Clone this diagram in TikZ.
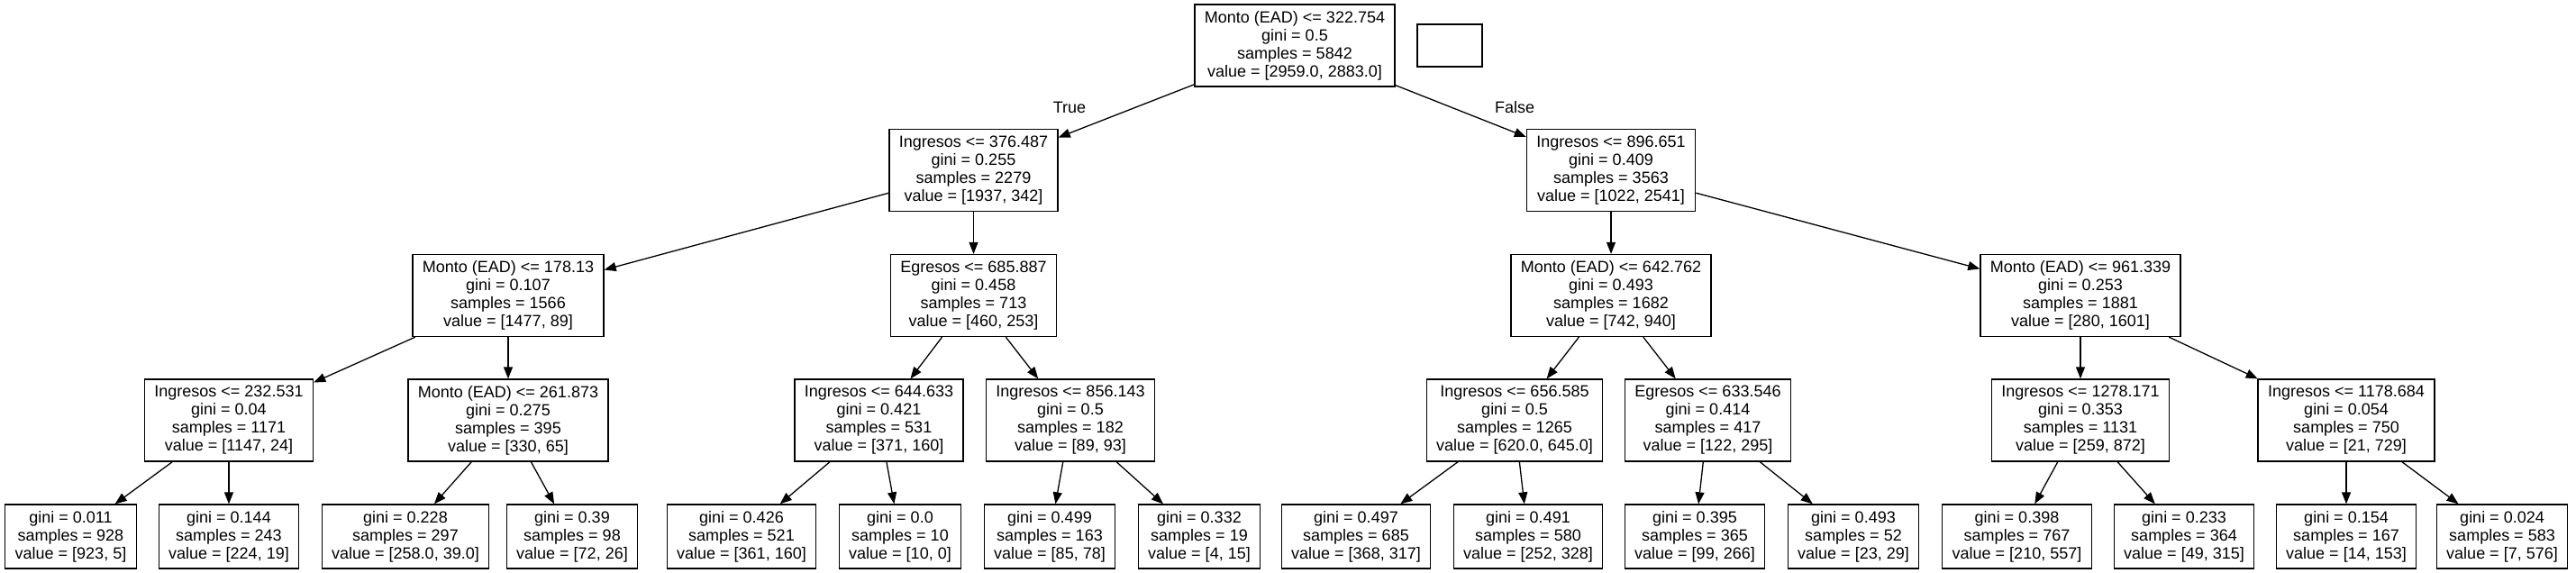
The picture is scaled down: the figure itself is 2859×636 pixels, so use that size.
\documentclass[tikz,border=0pt]{standalone}
\usepackage{fontspec}
\setmainfont{Liberation Sans}
\usetikzlibrary{arrows.meta}
\tikzset{
  box/.style={draw, line width=1.3pt, align=center, font=\fontsize{18}{20}\selectfont, inner xsep=11pt, inner ysep=0pt},
  splitnode/.style={box, minimum height=91pt},
  leafnode/.style={box, minimum height=71pt},
  arr/.style={-{Triangle[length=13pt,width=10pt]}, line width=1.3pt},
  lbl/.style={font=\fontsize{18}{20}\selectfont, inner sep=0pt}
}
\begin{document}
\begin{tikzpicture}[x=1pt,y=-1pt]
\useasboundingbox (0,0) rectangle (2859,636);
% level 0
\node[splitnode] (root) at (1437,50.5) {Monto (EAD) <= 322.754\\gini = 0.5\\samples = 5842\\value = [2959.0, 2883.0]};
\node[box, minimum width=72pt, minimum height=47pt, inner sep=0pt] (empty) at (1609,50.5) {};
% level 1
\node[splitnode] (n1) at (1080.5,189) {Ingresos <= 376.487\\gini = 0.255\\samples = 2279\\value = [1937, 342]};
\node[splitnode] (n2) at (1788,189) {Ingresos <= 896.651\\gini = 0.409\\samples = 3563\\value = [1022, 2541]};
% level 2
\node[splitnode] (a) at (564,328) {Monto (EAD) <= 178.13\\gini = 0.107\\samples = 1566\\value = [1477, 89]};
\node[splitnode] (b) at (1080.5,328) {Egresos <= 685.887\\gini = 0.458\\samples = 713\\value = [460, 253]};
\node[splitnode] (c) at (1788,328) {Monto (EAD) <= 642.762\\gini = 0.493\\samples = 1682\\value = [742, 940]};
\node[splitnode] (d) at (2309,328) {Monto (EAD) <= 961.339\\gini = 0.253\\samples = 1881\\value = [280, 1601]};
% level 3
\node[splitnode] (aa) at (254,466.5) {Ingresos <= 232.531\\gini = 0.04\\samples = 1171\\value = [1147, 24]};
\node[splitnode] (ab) at (564,466.5) {Monto (EAD) <= 261.873\\gini = 0.275\\samples = 395\\value = [330, 65]};
\node[splitnode] (ba) at (975.5,466.5) {Ingresos <= 644.633\\gini = 0.421\\samples = 531\\value = [371, 160]};
\node[splitnode] (bb) at (1188,466.5) {Ingresos <= 856.143\\gini = 0.5\\samples = 182\\value = [89, 93]};
\node[splitnode] (ca) at (1681,466.5) {Ingresos <= 656.585\\gini = 0.5\\samples = 1265\\value = [620.0, 645.0]};
\node[splitnode] (cb) at (1895.5,466.5) {Egresos <= 633.546\\gini = 0.414\\samples = 417\\value = [122, 295]};
\node[splitnode] (da) at (2309,466.5) {Ingresos <= 1278.171\\gini = 0.353\\samples = 1131\\value = [259, 872]};
\node[splitnode] (db) at (2604,466.5) {Ingresos <= 1178.684\\gini = 0.054\\samples = 750\\value = [21, 729]};
% leaves
\node[leafnode] (l1) at (78.5,595.5) {gini = 0.011\\samples = 928\\value = [923, 5]};
\node[leafnode] (l2) at (254,595.5) {gini = 0.144\\samples = 243\\value = [224, 19]};
\node[leafnode] (l3) at (450,595.5) {gini = 0.228\\samples = 297\\value = [258.0, 39.0]};
\node[leafnode] (l4) at (635,595.5) {gini = 0.39\\samples = 98\\value = [72, 26]};
\node[leafnode] (l5) at (823,595.5) {gini = 0.426\\samples = 521\\value = [361, 160]};
\node[leafnode] (l6) at (999,595.5) {gini = 0.0\\samples = 10\\value = [10, 0]};
\node[leafnode] (l7) at (1165,595.5) {gini = 0.499\\samples = 163\\value = [85, 78]};
\node[leafnode] (l8) at (1331,595.5) {gini = 0.332\\samples = 19\\value = [4, 15]};
\node[leafnode] (l9) at (1505,595.5) {gini = 0.497\\samples = 685\\value = [368, 317]};
\node[leafnode] (l10) at (1696,595.5) {gini = 0.491\\samples = 580\\value = [252, 328]};
\node[leafnode] (l11) at (1881,595.5) {gini = 0.395\\samples = 365\\value = [99, 266]};
\node[leafnode] (l12) at (2057,595.5) {gini = 0.493\\samples = 52\\value = [23, 29]};
\node[leafnode] (l13) at (2238.5,595.5) {gini = 0.398\\samples = 767\\value = [210, 557]};
\node[leafnode] (l14) at (2424,595.5) {gini = 0.233\\samples = 364\\value = [49, 315]};
\node[leafnode] (l15) at (2604,595.5) {gini = 0.154\\samples = 167\\value = [14, 153]};
\node[leafnode] (l16) at (2777,595.5) {gini = 0.024\\samples = 583\\value = [7, 576]};
% labels
\node[lbl] (t) at (1187,119) {True};
\node[lbl] (f) at (1681,119) {False};
% edges
\draw[arr] (root) -- (n1);
\draw[arr] (root) -- (n2);
\draw[arr] (n1) -- (a);
\draw[arr] (n1) -- (b);
\draw[arr] (n2) -- (c);
\draw[arr] (n2) -- (d);
\draw[arr] (a) -- (aa);
\draw[arr] (a) -- (ab);
\draw[arr] (b) -- (ba);
\draw[arr] (b) -- (bb);
\draw[arr] (c) -- (ca);
\draw[arr] (c) -- (cb);
\draw[arr] (d) -- (da);
\draw[arr] (d) -- (db);
\draw[arr] (aa) -- (l1);
\draw[arr] (aa) -- (l2);
\draw[arr] (ab) -- (l3);
\draw[arr] (ab) -- (l4);
\draw[arr] (ba) -- (l5);
\draw[arr] (ba) -- (l6);
\draw[arr] (bb) -- (l7);
\draw[arr] (bb) -- (l8);
\draw[arr] (ca) -- (l9);
\draw[arr] (ca) -- (l10);
\draw[arr] (cb) -- (l11);
\draw[arr] (cb) -- (l12);
\draw[arr] (da) -- (l13);
\draw[arr] (da) -- (l14);
\draw[arr] (db) -- (l15);
\draw[arr] (db) -- (l16);
\end{tikzpicture}
\end{document}
